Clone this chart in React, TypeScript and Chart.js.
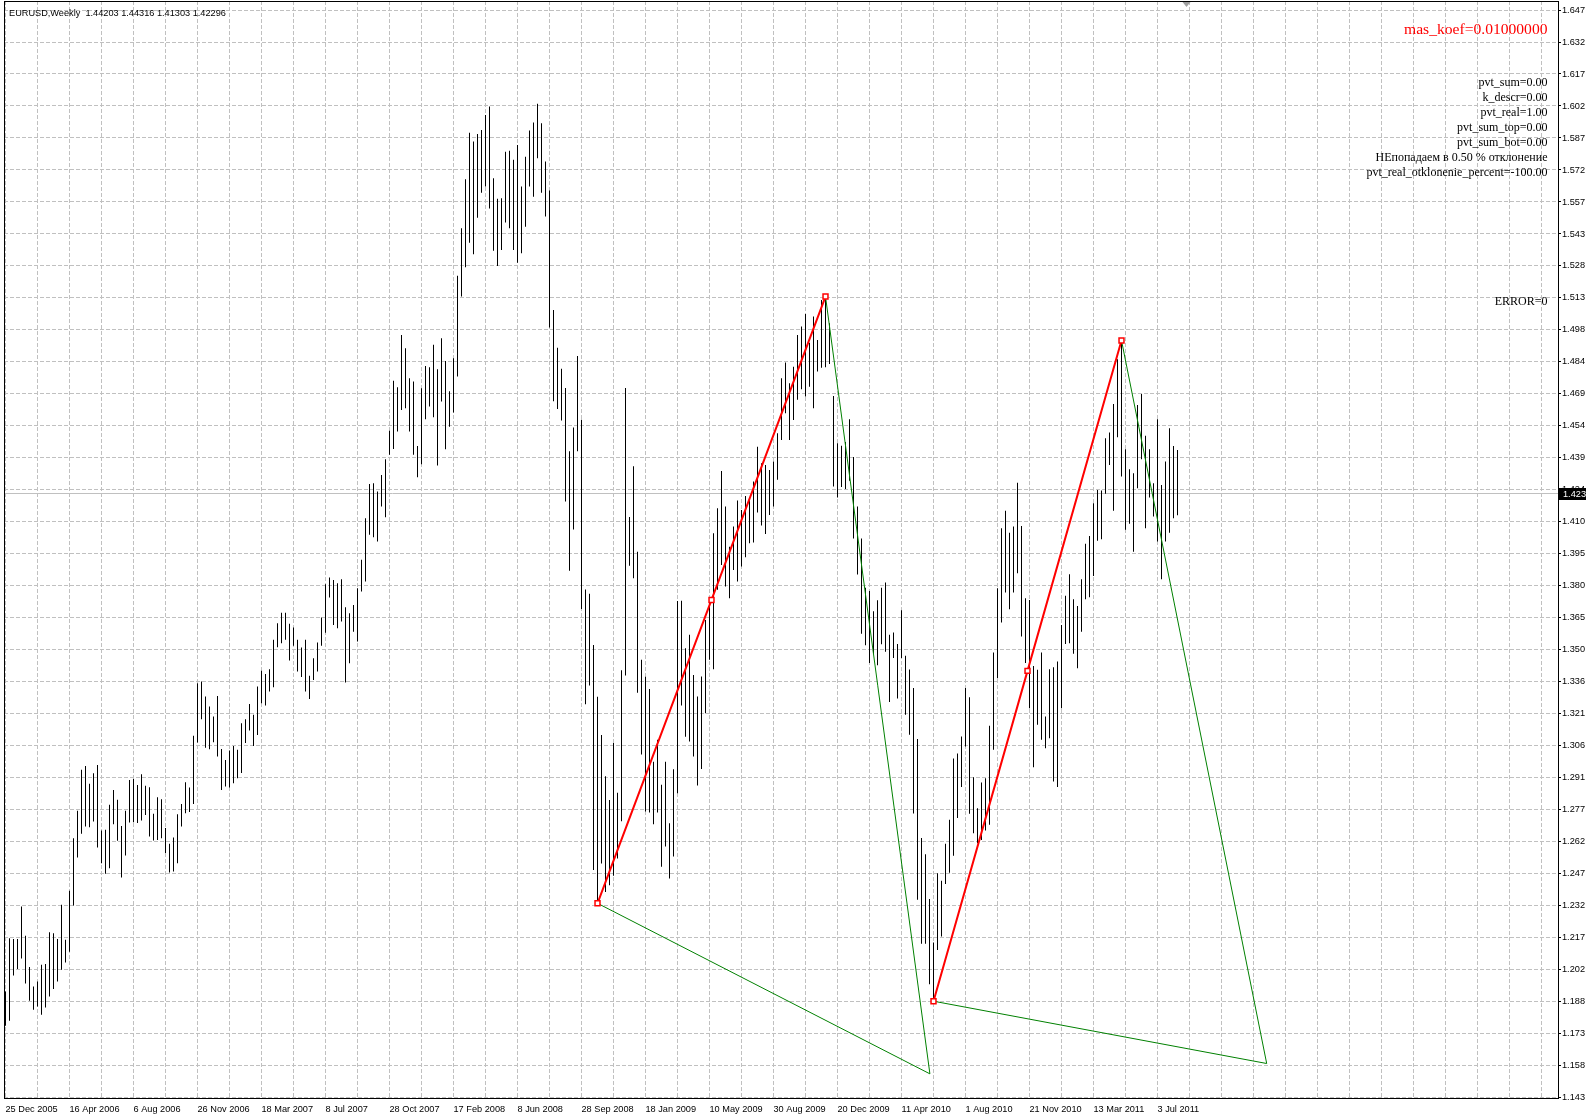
import React, { useEffect, useRef } from 'react';
import { Chart, registerables } from 'chart.js';

Chart.register(...registerables);

// ---- data ----
const symbolTitle = 'EURUSD,Weekly';
const lastBarOHLC = [1.44203, 1.44316, 1.41303, 1.42296];

const dateLabels = [
  '25 Dec 2005', '16 Apr 2006', '6 Aug 2006', '26 Nov 2006', '18 Mar 2007',
  '8 Jul 2007', '28 Oct 2007', '17 Feb 2008', '8 Jun 2008', '28 Sep 2008',
  '18 Jan 2009', '10 May 2009', '30 Aug 2009', '20 Dec 2009', '11 Apr 2010',
  '1 Aug 2010', '21 Nov 2010', '13 Mar 2011', '3 Jul 2011',
];

const priceTickLabels = [
  '1.647', '1.632', '1.617', '1.602', '1.587', '1.572', '1.557', '1.543', '1.528',
  '1.513', '1.498', '1.484', '1.469', '1.454', '1.439', '1.424', '1.410', '1.395',
  '1.380', '1.365', '1.350', '1.336', '1.321', '1.306', '1.291', '1.277', '1.262',
  '1.247', '1.232', '1.217', '1.202', '1.188', '1.173', '1.158', '1.143',
];
const priceTickTop = 1.6473;
const priceTickStep = 0.014838;

const highs = [
  1.1921, 1.2168, 1.2165, 1.2165, 1.2315, 1.2179, 1.2034, 1.1944, 1.1967, 1.2045,
  1.2049, 1.2196, 1.2191, 1.2165, 1.2323, 1.2161, 1.2388, 1.2632, 1.2759, 1.2949,
  1.2967, 1.2884, 1.2933, 1.2972, 1.2668, 1.2671, 1.2787, 1.2856, 1.2810, 1.2689,
  1.2759, 1.2902, 1.2906, 1.2879, 1.2929, 1.2875, 1.2868, 1.2745, 1.2822, 1.2813,
  1.2679, 1.2606, 1.2635, 1.2743, 1.2791, 1.2892, 1.2867, 1.3107, 1.3351, 1.3359,
  1.3289, 1.3243, 1.3196, 1.3292, 1.3046, 1.2995, 1.3039, 1.3060, 1.3042, 1.3165,
  1.3184, 1.3254, 1.3204, 1.3335, 1.3408, 1.3394, 1.3416, 1.3552, 1.3629, 1.3678,
  1.3678, 1.3626, 1.3609, 1.3552, 1.3516, 1.3552, 1.3385, 1.3467, 1.3539, 1.3655,
  1.3810, 1.3841, 1.3830, 1.3814, 1.3833, 1.3703, 1.3675, 1.3714, 1.3791, 1.3923,
  1.4116, 1.4275, 1.4278, 1.4240, 1.4317, 1.4389, 1.4522, 1.4753, 1.4723, 1.4966,
  1.4904, 1.4765, 1.4750, 1.4451, 1.4719, 1.4822, 1.4816, 1.4920, 1.4807, 1.4951,
  1.4845, 1.4705, 1.4858, 1.5240, 1.5461, 1.5688, 1.5904, 1.5863, 1.5898, 1.5917,
  1.5986, 1.6025, 1.5693, 1.5598, 1.5600, 1.5816, 1.5820, 1.5778, 1.5847, 1.5654,
  1.5793, 1.5914, 1.5951, 1.6038, 1.5948, 1.5770, 1.5636, 1.5082, 1.4907, 1.4809,
  1.4720, 1.4427, 1.4537, 1.4868, 1.4573, 1.3785, 1.3766, 1.3528, 1.3288, 1.3111,
  1.2919, 1.2809, 1.3074, 1.2843, 1.3411, 1.4720, 1.4122, 1.4357, 1.3961, 1.3460,
  1.3381, 1.3324, 1.2987, 1.3088, 1.2880, 1.2987, 1.2701, 1.2952, 1.3732, 1.3733,
  1.3513, 1.3575, 1.3389, 1.3289, 1.3382, 1.3644, 1.3733, 1.4046, 1.4162, 1.4335,
  1.4170, 1.3984, 1.4077, 1.4198, 1.4154, 1.4219, 1.4201, 1.4286, 1.4448, 1.4371,
  1.4363, 1.4340, 1.4379, 1.4510, 1.4765, 1.4838, 1.4742, 1.4819, 1.4966, 1.5005,
  1.5063, 1.4930, 1.5051, 1.4943, 1.5128, 1.5144, 1.5020, 1.4683, 1.4464, 1.4452,
  1.4470, 1.4575, 1.4400, 1.4170, 1.4022, 1.3794, 1.3778, 1.3685, 1.3735, 1.3794,
  1.3818, 1.3576, 1.3586, 1.3533, 1.3689, 1.3478, 1.3414, 1.3329, 1.3092, 1.2633,
  1.2558, 1.2350, 1.2148, 1.2469, 1.2435, 1.2606, 1.2717, 1.3001, 1.3025, 1.3104,
  1.3328, 1.3286, 1.2915, 1.2771, 1.2890, 1.2910, 1.3153, 1.3493, 1.3791, 1.4070,
  1.4151, 1.4049, 1.4077, 1.4281, 1.4080, 1.3745, 1.3737, 1.3431, 1.3413, 1.3493,
  1.3196, 1.3416, 1.3425, 1.3451, 1.3621, 1.3756, 1.3856, 1.3740, 1.3709, 1.3833,
  1.3997, 1.4034, 1.4185, 1.4247, 1.4244, 1.4487, 1.4513, 1.4646, 1.4853, 1.4940,
  1.4436, 1.4343, 1.4325, 1.4641, 1.4692, 1.4498, 1.4436, 1.4278, 1.4575, 1.4270,
  1.4379, 1.4533, 1.4451, 1.4432,
];

const lows = [
  1.1762, 1.1785, 1.1995, 1.2025, 1.2074, 1.1958, 1.1878, 1.1836, 1.1851, 1.1813,
  1.1847, 1.1898, 1.1933, 1.1967, 1.2022, 1.2055, 1.2105, 1.2320, 1.2542, 1.2652,
  1.2686, 1.2683, 1.2709, 1.2589, 1.2516, 1.2467, 1.2493, 1.2697, 1.2620, 1.2450,
  1.2552, 1.2705, 1.2706, 1.2702, 1.2714, 1.2740, 1.2640, 1.2621, 1.2624, 1.2632,
  1.2563, 1.2473, 1.2478, 1.2516, 1.2686, 1.2748, 1.2753, 1.2790, 1.3076, 1.3184,
  1.3052, 1.3045, 1.3077, 1.3011, 1.2856, 1.2872, 1.2867, 1.2887, 1.2910, 1.2934,
  1.3073, 1.3131, 1.3060, 1.3111, 1.3258, 1.3247, 1.3312, 1.3332, 1.3518, 1.3536,
  1.3552, 1.3456, 1.3524, 1.3405, 1.3379, 1.3312, 1.3277, 1.3366, 1.3405, 1.3524,
  1.3585, 1.3748, 1.3621, 1.3606, 1.3637, 1.3354, 1.3443, 1.3590, 1.3544, 1.3776,
  1.3822, 1.4039, 1.4028, 1.4008, 1.4170, 1.4121, 1.4410, 1.4437, 1.4518, 1.4618,
  1.4626, 1.4518, 1.4410, 1.4306, 1.4366, 1.4575, 1.4634, 1.4584, 1.4360, 1.4657,
  1.4436, 1.4540, 1.4606, 1.4773, 1.5144, 1.5280, 1.5394, 1.5340, 1.5510, 1.5626,
  1.5654, 1.5553, 1.5357, 1.5286, 1.5360, 1.5487, 1.5461, 1.5360, 1.5301, 1.5345,
  1.5468, 1.5654, 1.5607, 1.5785, 1.5626, 1.5515, 1.5000, 1.4658, 1.4623, 1.4569,
  1.4193, 1.3872, 1.4064, 1.4427, 1.3695, 1.3253, 1.3340, 1.2485, 1.2330, 1.2515,
  1.2382, 1.2414, 1.2458, 1.2538, 1.2710, 1.3386, 1.3895, 1.3837, 1.3306, 1.3020,
  1.2756, 1.2751, 1.2697, 1.2751, 1.2499, 1.2594, 1.2445, 1.2547, 1.2840, 1.3247,
  1.3103, 1.3080, 1.3011, 1.2876, 1.2953, 1.3212, 1.3459, 1.3416, 1.3784, 1.3899,
  1.3799, 1.3745, 1.3876, 1.3822, 1.3892, 1.3935, 1.4000, 1.4003, 1.4142, 1.4082,
  1.4043, 1.4131, 1.4170, 1.4294, 1.4479, 1.4603, 1.4479, 1.4572, 1.4665, 1.4714,
  1.4680, 1.4726, 1.4626, 1.4796, 1.4814, 1.4816, 1.4831, 1.4263, 1.4212, 1.4261,
  1.4252, 1.4290, 1.4022, 1.3855, 1.3580, 1.3527, 1.3444, 1.3487, 1.3434, 1.3531,
  1.3497, 1.3264, 1.3468, 1.3280, 1.3468, 1.3205, 1.3112, 1.2746, 1.2346, 1.2142,
  1.2142, 1.1954, 1.1876, 1.2113, 1.2176, 1.2420, 1.2472, 1.2550, 1.2726, 1.2869,
  1.3057, 1.2745, 1.2655, 1.2609, 1.2624, 1.2668, 1.2694, 1.3042, 1.3374, 1.3632,
  1.3771, 1.3694, 1.3771, 1.3861, 1.3567, 1.3444, 1.3235, 1.2961, 1.3158, 1.3088,
  1.3049, 1.3096, 1.2895, 1.2869, 1.3235, 1.3533, 1.3536, 1.3487, 1.3420, 1.3590,
  1.3740, 1.3750, 1.3848, 1.4012, 1.4018, 1.4229, 1.4363, 1.4151, 1.4491, 1.4309,
  1.4062, 1.4090, 1.3961, 1.4255, 1.4390, 1.4070, 1.4212, 1.4124, 1.4008, 1.3833,
  1.4008, 1.4049, 1.4116, 1.4130,
];

// pivot wave 1 (red) and its green triangle
const redWave1Bars = [148, 176.5, 205];
const redWave1Prices = [1.2330, 1.3737, 1.5144];
const greenTri1Bars = [148, 231.1, 205];
const greenTri1Prices = [1.2330, 1.1539, 1.5144];
// pivot wave 2 (red) and its green triangle
const redWave2Bars = [232, 255.5, 279];
const redWave2Prices = [1.1876, 1.3408, 1.4940];
const greenTri2Bars = [232, 315.3, 279];
const greenTri2Prices = [1.1876, 1.1587, 1.4940];

const infoTitle = 'mas_koef=0.01000000';
const infoLines = [
  'pvt_sum=0.00',
  'k_descr=0.00',
  'pvt_real=1.00',
  'pvt_sum_top=0.00',
  'pvt_sum_bot=0.00',
  'НЕпопадаем в 0.50 % отклонение',
  'pvt_real_otklonenie_percent=-100.00',
];
const errorText = 'ERROR=0';

// ---- styling ----
const UI_FONT = 'Liberation Sans';
const SERIF = 'Liberation Serif';
const GRID = '#c0c0c0';

const pts = (xs: number[], ys: number[]) => xs.map((x, i) => ({ x, y: ys[i] }));

const mt4Overlay = {
  id: 'mt4Overlay',
  beforeDatasetsDraw(chart: any) {
    const { ctx, chartArea, scales } = chart;
    const y = Math.floor(scales.y.getPixelForValue(lastBarOHLC[3])) + 0.5;
    ctx.save();
    ctx.strokeStyle = GRID;
    ctx.lineWidth = 1;
    ctx.beginPath();
    ctx.moveTo(chartArea.left, y);
    ctx.lineTo(chartArea.right, y);
    ctx.stroke();
    ctx.restore();
  },
  afterDraw(chart: any) {
    const { ctx, chartArea, scales, width } = chart;
    ctx.save();
    // frame
    ctx.strokeStyle = '#000';
    ctx.lineWidth = 1;
    ctx.strokeRect(chartArea.left + 0.5, chartArea.top + 0.5, chartArea.right - chartArea.left, chartArea.bottom - chartArea.top);

    // chart shift marker
    const sx = Math.round(scales.x.getPixelForValue(highs.length + 1)) + 0.5;
    ctx.fillStyle = '#a0a0a0';
    ctx.beginPath();
    ctx.moveTo(sx - 4, chartArea.top + 1);
    ctx.lineTo(sx + 4, chartArea.top + 1);
    ctx.lineTo(sx, chartArea.top + 6);
    ctx.closePath();
    ctx.fill();

    // current price box
    const py = scales.y.getPixelForValue(lastBarOHLC[3]);
    ctx.fillStyle = '#000';
    ctx.fillRect(chartArea.right + 1, Math.round(py) - 6, width - chartArea.right - 1, 12);
    ctx.fillStyle = '#fff';
    ctx.font = `9.2px "${UI_FONT}"`;
    ctx.textBaseline = 'middle';
    ctx.textAlign = 'left';
    ctx.fillText(lastBarOHLC[3].toFixed(4), chartArea.right + 5, Math.round(py));

    // header
    ctx.fillStyle = '#000';
    ctx.fillText(`${symbolTitle}  ${lastBarOHLC.map((v) => v.toFixed(5)).join(' ')}`, chartArea.left + 5, chartArea.top + 12);

    // info texts (right aligned)
    const rx = chartArea.right - 10.5;
    ctx.textAlign = 'right';
    ctx.fillStyle = '#ff0000';
    ctx.font = `15.6px "${SERIF}"`;
    ctx.fillText(infoTitle, rx, chartArea.top + 29);
    ctx.fillStyle = '#000';
    ctx.font = `12px "${SERIF}"`;
    infoLines.forEach((t, i) => ctx.fillText(t, rx, chartArea.top + 82 + i * 15));
    ctx.fillText(errorText, rx, chartArea.top + 301);
    ctx.restore();
  },
};

export default function App() {
  const ref = useRef<HTMLCanvasElement>(null);

  useEffect(() => {
    document.body.style.margin = '0';
    const canvas = ref.current;
    if (!canvas) return;
    const barData = highs.map((h, i) => ({ x: i, y: [lows[i], h] }));
    const xTicks: number[] = [];
    for (let v = 0; v <= 384; v += 8) xTicks.push(v);
    const yTickValues = priceTickLabels.map((_, k) => priceTickTop - k * priceTickStep).reverse();

    const chart = new Chart(canvas, {
      type: 'bar',
      data: {
        datasets: [
          {
            type: 'bar',
            data: barData as any,
            backgroundColor: '#000',
            borderWidth: 0,
            barThickness: 1,
            inflateAmount: 0,
            order: 4,
          } as any,
          {
            type: 'line',
            data: pts(greenTri1Bars, greenTri1Prices),
            borderColor: '#008000',
            borderWidth: 1,
            pointRadius: 0,
            tension: 0,
            order: 3,
          },
          {
            type: 'line',
            data: pts(greenTri2Bars, greenTri2Prices),
            borderColor: '#008000',
            borderWidth: 1,
            pointRadius: 0,
            tension: 0,
            order: 3,
          },
          {
            type: 'line',
            data: pts(redWave1Bars, redWave1Prices),
            borderColor: '#ff0000',
            borderWidth: 2,
            pointStyle: 'rect',
            pointRadius: 3.5,
            pointBorderWidth: 1.5,
            pointBorderColor: '#ff0000',
            pointBackgroundColor: '#ffffff',
            tension: 0,
            order: 1,
          },
          {
            type: 'line',
            data: pts(redWave2Bars, redWave2Prices),
            borderColor: '#ff0000',
            borderWidth: 2,
            pointStyle: 'rect',
            pointRadius: 3.5,
            pointBorderWidth: 1.5,
            pointBorderColor: '#ff0000',
            pointBackgroundColor: '#ffffff',
            tension: 0,
            order: 1,
          },
        ],
      },
      options: {
        responsive: false,
        animation: false,
        devicePixelRatio: 1,
        events: [],
        layout: { autoPadding: false, padding: { left: 4, top: 1, right: 0, bottom: 0 } },
        plugins: { legend: { display: false }, tooltip: { enabled: false }, title: { display: false } },
        scales: {
          x: {
            type: 'linear',
            position: 'bottom',
            offset: false,
            min: -0.375,
            max: 388.125,
            afterBuildTicks: (s: any) => {
              s.ticks = xTicks.map((v) => ({ value: v }));
            },
            afterFit: (s: any) => {
              s.height = 22;
              s.paddingLeft = 0;
              s.paddingRight = 0;
            },
            grid: { offset: false, color: GRID, lineWidth: 1, drawTicks: false },
            border: { display: false, dash: [4, 2] },
            ticks: {
              autoSkip: false,
              maxRotation: 0,
              minRotation: 0,
              align: 'start',
              padding: 6,
              color: '#000',
              font: { family: UI_FONT, size: 9.2 },
              callback: (v: any) => (Number(v) % 16 === 0 ? dateLabels[Number(v) / 16] ?? '' : ''),
            },
          },
          y: {
            type: 'linear',
            position: 'right',
            min: 1.1427,
            max: 1.65148,
            afterBuildTicks: (s: any) => {
              s.ticks = yTickValues.map((v) => ({ value: v }));
            },
            afterFit: (s: any) => {
              s.width = 28;
              s.paddingTop = 0;
              s.paddingBottom = 0;
            },
            grid: { color: GRID, lineWidth: 1, drawTicks: true, tickLength: 3, tickColor: '#000' },
            border: { display: false, dash: [4, 2] },
            ticks: {
              autoSkip: false,
              padding: 1,
              color: '#000',
              font: { family: UI_FONT, size: 9.2 },
              callback: (_v: any, i: number) => priceTickLabels[priceTickLabels.length - 1 - i],
            },
          },
        },
      } as any,
      plugins: [mt4Overlay],
    });
    return () => chart.destroy();
  }, []);

  return (
    <div style={{ width: 1586, height: 1120, background: '#fff', overflow: 'hidden' }}>
      <canvas ref={ref} width={1586} height={1120} style={{ display: 'block', width: 1586, height: 1120 }} />
    </div>
  );
}
